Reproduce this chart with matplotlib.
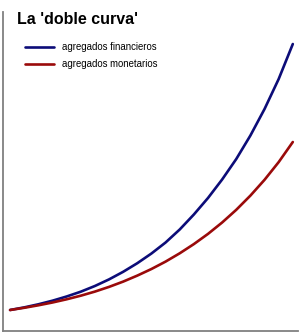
import matplotlib
matplotlib.use('Agg')
import matplotlib.pyplot as plt

# valores (unidades arbitrarias)
periodos = [0, 0.5, 1, 1.5, 2, 2.5, 3, 3.5, 4, 4.5, 5,
            5.5, 6, 6.5, 7, 7.5, 8, 8.5, 9, 9.5, 10]
financieros = [0, 2.6, 5.7, 9.3, 13.5, 18.3, 24, 30.6, 38.2, 46.8, 56.5,
               67.5, 80.5, 95.5, 112, 130.5, 151, 174.5, 201, 231, 266]
monetarios = [0, 2.2, 4.7, 7.5, 10.7, 14.3, 18.4, 23.1, 28.4, 34.4, 41,
              48.4, 56.7, 65.9, 76.1, 87.5, 100.2, 114.4, 130.2, 147.9, 168]
etiquetas = ['agregados financieros', 'agregados monetarios']

plt.rcParams['font.family'] = ['Liberation Sans', 'DejaVu Sans']

fig = plt.figure(figsize=(3.0, 3.34), dpi=100)
ax = fig.add_axes([0.01, 0.009, 0.983, 0.955])

ax.plot(periodos, financieros, color='#0c0c78', lw=1.9, label=etiquetas[0],
        solid_capstyle='round', solid_joinstyle='round')
ax.plot(periodos, monetarios, color='#9a0a0a', lw=1.9, label=etiquetas[1],
        solid_capstyle='round', solid_joinstyle='round')

ax.set_xlim(-0.25, 10.18)
ax.set_ylim(-21, 298)
ax.set_xticks([])
ax.set_yticks([])
for s in ['top', 'right']:
    ax.spines[s].set_visible(False)
for s in ['left', 'bottom']:
    ax.spines[s].set_color('#808080')
    ax.spines[s].set_linewidth(1.3)

fig.text(0.057, 0.942, "La 'doble curva'", fontsize=11.5, fontweight='bold',
         va='center', ha='left')

ax.legend(loc='upper left', bbox_to_anchor=(0.075, 0.905), frameon=False,
          fontsize=6.9, handlelength=3.0, handletextpad=0.8, labelspacing=0.7,
          borderaxespad=0, borderpad=0)

fig.savefig('out.png', dpi=100)
